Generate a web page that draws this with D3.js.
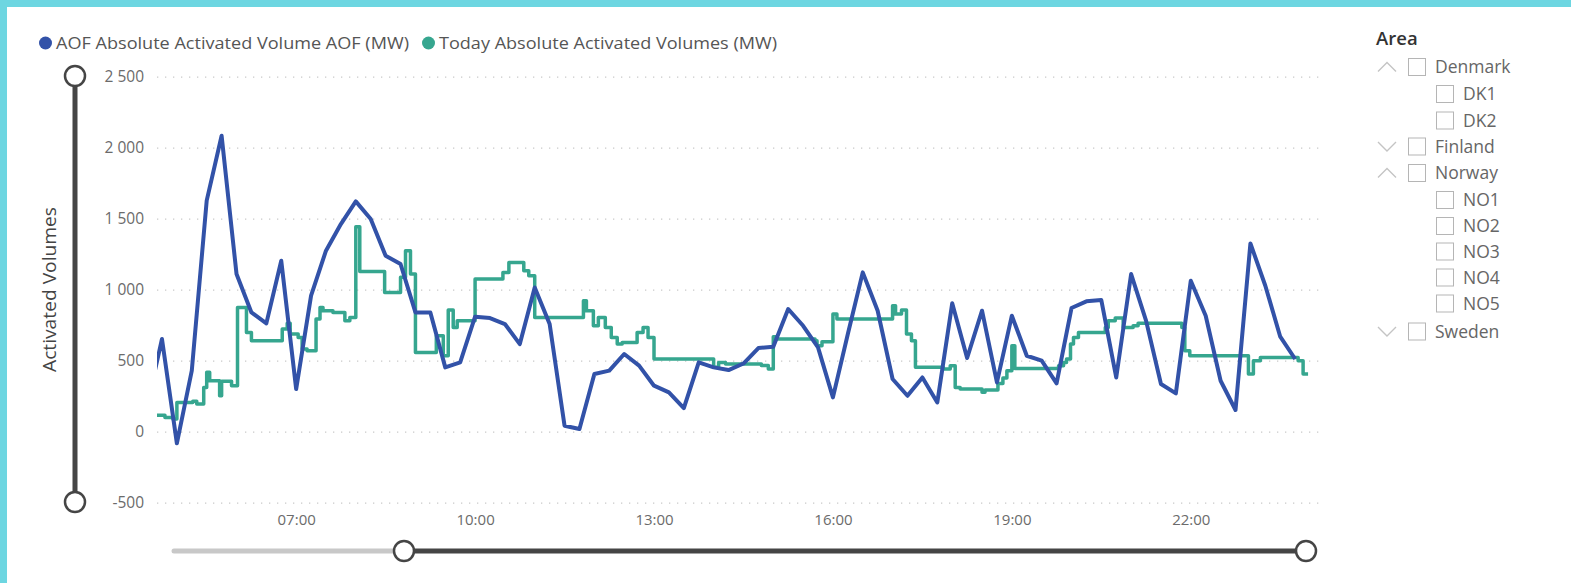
<!DOCTYPE html>
<html>
<head>
<meta charset="utf-8">
<script src="https://cdn.jsdelivr.net/npm/d3@7"></script>
<style>
  html, body { margin: 0; padding: 0; background: #6dd6e1; }
  svg { display: block; }
  text { font-family: "Open Sans", "Noto Sans", sans-serif; }
</style>
</head>
<body>
<svg id="chart" width="1571" height="583"></svg>
<script>
// ---------------- DATA ----------------
const seriesNames = ["AOF Absolute Activated Volume AOF (MW)", "Today Absolute Activated Volumes (MW)"];
const seriesColors = ["#3252a8", "#36a68f"];

const blueTimes = ["04:30","04:45","05:00","05:15","05:30","05:45","06:00","06:15","06:30","06:45",
  "07:00","07:15","07:30","07:45","08:00","08:15","08:30","08:45","09:00","09:15","09:30","09:45",
  "10:00","10:15","10:30","10:45","11:00","11:15","11:30","11:45","12:00","12:15","12:30","12:45",
  "13:00","13:15","13:30","13:45","14:00","14:15","14:30","14:45","15:00","15:15","15:30","15:45",
  "16:00","16:15","16:30","16:45","17:00","17:15","17:30","17:45","18:00","18:15","18:30","18:45",
  "19:00","19:15","19:30","19:45","20:00","20:15","20:30","20:45","21:00","21:15","21:30","21:45",
  "22:00","22:15","22:30","22:45","23:00","23:15","23:30","23:45"];
const blueValues = [180,653,-82,430,1627,2084,1110,840,763,1204,
  300,958,1275,1462,1622,1498,1239,1181,840,840,453,488,
  810,800,758,617,1016,758,42,19,406,430,547,465,
  324,277,166,488,453,434,480,589,599,864,746,594,
  242,688,1122,852,371,253,382,206,904,519,852,347,
  817,535,500,340,871,918,927,382,1110,782,336,270,
  1063,817,359,153,1326,1028,669,512];

const greenTimes = ["04:40","04:48","04:56","05:00","05:16","05:20","05:27","05:30","05:33","05:43",
  "05:45","05:55","06:01","06:10","06:15","06:46","06:51","06:54","07:02","07:06",
  "07:11","07:20","07:24","07:27","07:37","07:49","07:54","08:00","08:04","08:29",
  "08:45","08:50","08:55","09:00","09:21","09:28","09:33","09:38","09:42","10:00",
  "10:28","10:34","10:49","10:54","11:00","11:49","11:52","11:59","12:04","12:11",
  "12:17","12:23","12:28","12:43","12:49","12:54","13:00","14:00","14:05","14:12",
  "14:48","14:55","15:00","15:04","15:42","15:44","15:49","16:00","16:04","17:00",
  "17:03","17:09","17:14","17:19","17:23","17:51","17:58","18:03","18:08","18:30",
  "18:33","18:46","18:51","18:55","19:00","19:03","19:47","19:52","19:55","19:59",
  "20:02","20:07","20:34","20:37","20:44","20:52","21:02","21:07","21:51","21:54",
  "21:59","22:58","23:03","23:10","23:48","23:53","23:58"];
const greenValues = [115,100,90,206,215,195,312,418,359,253,
  356,324,875,699,641,723,763,688,664,582,
  570,793,875,852,840,782,805,1444,1129,981,
  1087,1275,1110,558,676,535,857,734,782,1075,
  1122,1192,1134,1099,805,922,852,746,805,734,
  664,617,629,699,734,664,512,453,488,477,
  466,441,669,652,640,606,634,829,793,887,
  829,857,688,641,453,441,465,312,300,277,
  293,340,379,430,606,445,465,488,512,617,
  664,699,734,782,800,734,746,763,734,570,
  535,406,500,523,500,406,406];

const yTicks = [-500, 0, 500, 1000, 1500, 2000, 2500];
const xTickLabels = ["07:00","10:00","13:00","16:00","19:00","22:00"];
const xDomainLabels = ["04:40","24:10"];

const areaItems = [
  {label:"Denmark", level:0, chevron:"up"},
  {label:"DK1", level:1},
  {label:"DK2", level:1},
  {label:"Finland", level:0, chevron:"down"},
  {label:"Norway", level:0, chevron:"up"},
  {label:"NO1", level:1},
  {label:"NO2", level:1},
  {label:"NO3", level:1},
  {label:"NO4", level:1},
  {label:"NO5", level:1},
  {label:"Sweden", level:0, chevron:"down"}
];

// ---------------- HELPERS ----------------
const parseT = s => { const [h,m] = s.split(":").map(Number); return new Date(2023,0,1,h,m); };
const blue = blueTimes.map((t,i) => ({t: parseT(t), v: blueValues[i]}));
const green = greenTimes.map((t,i) => ({t: parseT(t), v: greenValues[i]}));

const svg = d3.select("#chart");
// white card
svg.append("rect").attr("x",7).attr("y",7).attr("width",1571-7).attr("height",583-7).attr("fill","#ffffff");

const plot = {left:157, right:1320, top:76.7, bottom:502.7};
const x = d3.scaleTime().domain(xDomainLabels.map(parseT)).range([plot.left, plot.right]);
const y = d3.scaleLinear().domain([-500, 2500]).range([plot.bottom, plot.top]);

// gridlines + y ticks
const yAxis = d3.axisLeft(y).tickValues(yTicks).tickSize(-(plot.right-plot.left))
  .tickFormat(d => d3.format(",")(d).replace(/,/g, "\u00a0").replace("\u2212", "-"));
const gy = svg.append("g").attr("transform",`translate(${plot.left},0)`).call(yAxis);
gy.select(".domain").remove();
gy.selectAll(".tick line").attr("stroke","#c9c9c9").attr("stroke-width",1.3).attr("stroke-dasharray","1.3,6.7");
gy.selectAll(".tick text").attr("fill","#6b6b6b").style("font-size","15.5px").attr("x",-13);

const xAxis = d3.axisBottom(x).tickValues(xTickLabels.map(parseT)).tickSize(0)
  .tickFormat(d3.timeFormat("%H:%M")).tickPadding(12);
const gx = svg.append("g").attr("transform",`translate(0,${plot.bottom})`).call(xAxis);
gx.select(".domain").remove();
gx.selectAll(".tick text").attr("fill","#6b6b6b").style("font-size","15px");

// clip
svg.append("clipPath").attr("id","clip").append("rect")
  .attr("x",plot.left).attr("y",0).attr("width",plot.right-plot.left).attr("height",583);

const lineBlue = d3.line().x(d=>x(d.t)).y(d=>y(d.v)).curve(d3.curveLinear);
const lineGreen = d3.line().x(d=>x(d.t)).y(d=>y(d.v)).curve(d3.curveStepAfter);

const lines = svg.append("g").attr("clip-path","url(#clip)");
lines.append("path").datum(green).attr("d",lineGreen).attr("fill","none")
  .attr("stroke",seriesColors[1]).attr("stroke-width",3.5).attr("stroke-linejoin","round");
lines.append("path").datum(blue).attr("d",lineBlue).attr("fill","none")
  .attr("stroke",seriesColors[0]).attr("stroke-width",4).attr("stroke-linejoin","round");

// y axis title
svg.append("text").attr("transform","translate(56,289.5) rotate(-90)")
  .attr("text-anchor","middle").attr("fill","#444").style("font-size","17.5px")
  .attr("textLength",165).attr("lengthAdjust","spacingAndGlyphs")
  .text("Activated Volumes");

// legend
const leg = svg.append("g");
const legendX = [39, 422];
const legendW = [353, 338];
seriesNames.forEach((name,i) => {
  const lx = legendX[i];
  leg.append("circle").attr("cx",lx+6.5).attr("cy",43).attr("r",6.5).attr("fill",seriesColors[i]);
  leg.append("text").attr("x",lx+17).attr("y",49).attr("fill","#555").style("font-size","17px")
    .attr("textLength",legendW[i]).attr("lengthAdjust","spacingAndGlyphs").text(name);
});

// vertical slider
const sl = svg.append("g");
sl.append("line").attr("x1",75).attr("x2",75).attr("y1",76).attr("y2",502).attr("stroke","#454545").attr("stroke-width",5);
[76,502].forEach(cy => sl.append("circle").attr("cx",75).attr("cy",cy).attr("r",10)
  .attr("fill","#fff").attr("stroke","#454545").attr("stroke-width",2.5));

// horizontal slider
sl.append("line").attr("x1",174).attr("x2",404).attr("y1",551).attr("y2",551)
  .attr("stroke","#c8c8c8").attr("stroke-width",5).attr("stroke-linecap","round");
sl.append("line").attr("x1",404).attr("x2",1306).attr("y1",551).attr("y2",551)
  .attr("stroke","#454545").attr("stroke-width",5);
[404,1306].forEach(cx => sl.append("circle").attr("cx",cx).attr("cy",551).attr("r",10)
  .attr("fill","#fff").attr("stroke","#454545").attr("stroke-width",2.5));

// Area slicer
const pan = svg.append("g");
pan.append("text").attr("x",1376).attr("y",45).attr("fill","#333").style("font-size","18.5px").style("font-weight","600").text("Area");
const rowY = [67,94,120.5,146.5,173,200,226,251.5,277.5,303.5,331.5];
areaItems.forEach((it,i) => {
  const cy = rowY[i];
  const bx = it.level === 0 ? 1408 : 1436;
  if (it.chevron) {
    const pts = it.chevron === "up"
      ? [[1378,cy+4.5],[1387,cy-4.5],[1396,cy+4.5]]
      : [[1378,cy-4.5],[1387,cy+4.5],[1396,cy-4.5]];
    pan.append("polyline").attr("points",pts.map(p=>p.join(",")).join(" "))
      .attr("fill","none").attr("stroke","#c4c4c4").attr("stroke-width",1.4);
  }
  pan.append("rect").attr("x",bx+0.5).attr("y",cy-8.5).attr("width",17).attr("height",17)
    .attr("fill","#fff").attr("stroke","#b5b5b5").attr("stroke-width",1);
  pan.append("text").attr("x", it.level===0 ? 1435 : 1463).attr("y",cy+6)
    .attr("fill","#666").style("font-size","17.5px").text(it.label);
});
</script>
</body>
</html>
